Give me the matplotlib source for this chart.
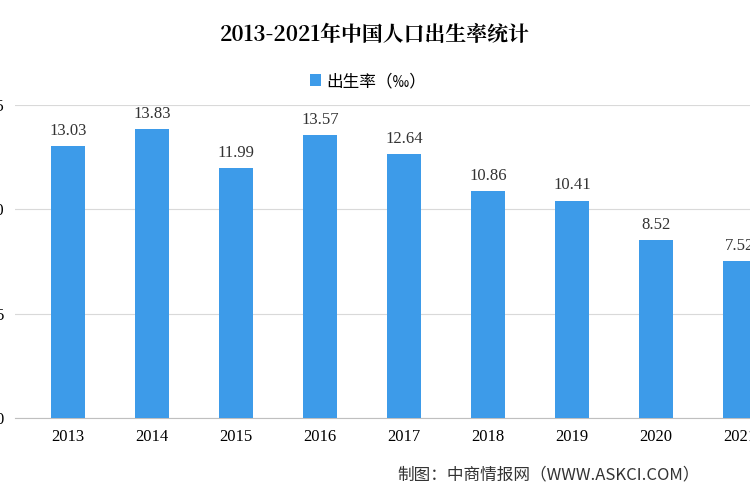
import matplotlib
matplotlib.use("Agg")
import matplotlib.pyplot as plt

years = ["2013","2014","2015","2016","2017","2018","2019","2020","2021"]
rates = [13.03,13.83,11.99,13.57,12.64,10.86,10.41,8.52,7.52]
yticks = [0,5,10,15]

plt.rcParams['font.family'] = ['Noto Sans CJK SC','DejaVu Sans']
fig = plt.figure(figsize=(7.5,5), dpi=100)
ax = fig.add_axes([0.02,0.164,0.98,0.626])
x = list(range(len(years)))
ax.bar(x, rates, width=0.4, color='#3d9be9', label='出生率（‰）', zorder=3)
for xi, v in zip(x, rates):
    ax.text(xi, v+0.35, f"{v:.2f}", ha='center', va='bottom', fontsize=12,
            family=['Liberation Serif','DejaVu Serif'], color='#333333')
ax.set_xlim(-0.631, 8.12)
ax.set_ylim(0,15)
ax.set_yticks(yticks)
ax.set_yticklabels([str(t) for t in yticks], fontsize=12, family=['Liberation Serif'])
ax.set_xticks(x)
ax.set_xticklabels(years, fontsize=12, family=['Liberation Serif'])
ax.tick_params(length=0, pad=8)
ax.grid(axis='y', color='#d9d9d9', zorder=0)
for s in ['top','right','left']:
    ax.spines[s].set_visible(False)
ax.spines['bottom'].set_color('#bfbfbf')
ax.legend(loc='lower center', bbox_to_anchor=(0.48,1.0), frameon=False, fontsize=12,
          handlelength=0.7, handleheight=0.7, handletextpad=0.3)
fig.text(0.5, 0.93, "2013-2021年中国人口出生率统计", ha='center', va='center',
         fontsize=15, fontweight='bold', family=['Noto Serif CJK SC','Noto Sans CJK SC','DejaVu Sans'])
fig.text(0.53, 0.05, "制图：中商情报网（WWW.ASKCI.COM）", ha='left', va='center', fontsize=12, color='#333333')
fig.savefig("out.png", dpi=100)
